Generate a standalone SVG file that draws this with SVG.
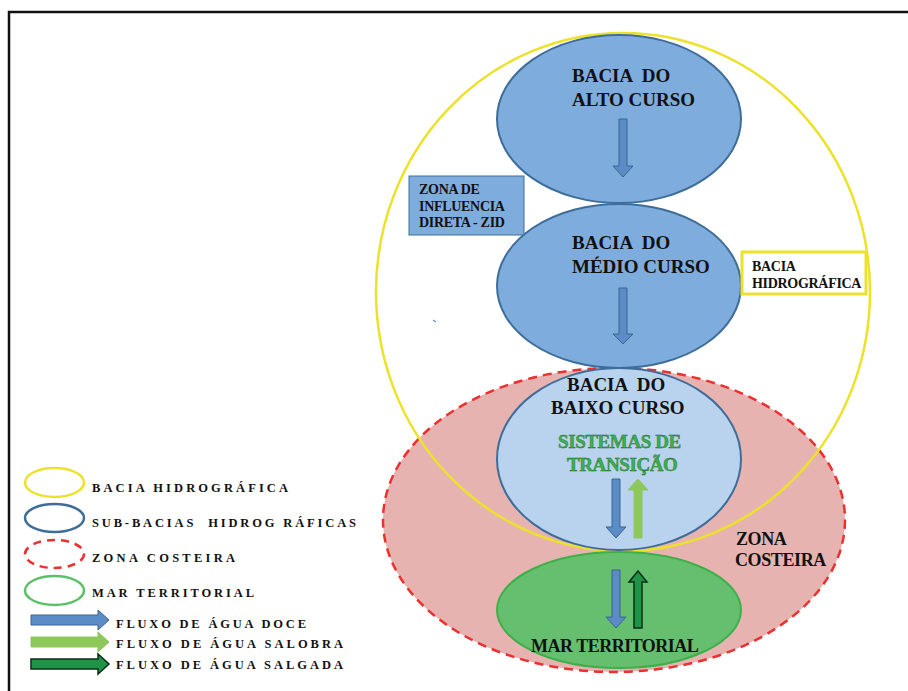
<svg xmlns="http://www.w3.org/2000/svg" width="908" height="691" viewBox="0 0 908 691">
<style>
.t{font-family:"Liberation Serif","Times New Roman",serif;font-weight:bold;fill:#111;white-space:pre}
.big{font-size:19px;letter-spacing:0px}
.sm{font-size:14px;letter-spacing:-0.3px}
.lg{font-size:12.5px}
.grn{fill:#3fae4f;stroke:#1d6b2a;stroke-width:0.4}
.sub{fill:#7eacdc;stroke:#3e6d9a;stroke-width:2}
.blueA{fill:#5b8cc5;stroke:#3b6491;stroke-width:1}
.greenA{fill:#8cc85a;stroke:#8cc85a;stroke-width:1}
.saltA{fill:#1f9446;stroke:#0a2e14;stroke-width:1.5}
</style>
<rect x="0" y="0" width="908" height="691" fill="#fff"/>
<path d="M9,691 V12 H908" fill="none" stroke="#111" stroke-width="2.5"/>

<g id="zona-costeira">
<ellipse cx="614" cy="520" rx="231" ry="152" fill="#e6b3b0" stroke="#ee2f2f" stroke-width="2.5" stroke-dasharray="9,6"/>
<text class="t" font-size="18" letter-spacing="-0.4" x="736" y="545">ZONA</text>
<text class="t" font-size="18" letter-spacing="-0.4" x="735" y="566">COSTEIRA</text>
</g>

<g id="bacia-hidrografica">
<ellipse cx="623" cy="292" rx="247" ry="259" fill="none" stroke="#ece22a" stroke-width="2.5"/>
</g>

<g id="bacia-alto-curso">
<ellipse class="sub" cx="619" cy="119" rx="122" ry="84"/>
<text class="t big" x="572" y="82" xml:space="preserve">BACIA  DO</text>
<text class="t big" x="572" y="106">ALTO CURSO</text>
</g>

<g id="bacia-medio-curso">
<ellipse class="sub" cx="619" cy="286" rx="122" ry="82"/>
<text class="t big" x="572" y="249" xml:space="preserve">BACIA  DO</text>
<text class="t big" x="572" y="273">MÉDIO CURSO</text>
</g>

<g id="mar-territorial">
<ellipse cx="619" cy="610" rx="122" ry="58" fill="#66bf6f" stroke="#3db04a" stroke-width="2"/>
<text class="t" font-size="18" letter-spacing="-0.5" x="531" y="652">MAR TERRITORIAL</text>
</g>

<g id="bacia-baixo-curso">
<ellipse cx="619" cy="459" rx="122" ry="91" fill="#b9d3ee" stroke="#3e6d9a" stroke-width="2"/>
<text class="t big" x="567" y="391" xml:space="preserve">BACIA  DO</text>
<text class="t big" x="551" y="414">BAIXO CURSO</text>
<text class="t grn" font-size="19" letter-spacing="-0.4" x="558" y="448">SISTEMAS DE</text>
<text class="t grn" font-size="19" letter-spacing="-0.4" x="567" y="471">TRANSIÇÃO</text>
</g>

<g id="zid">
<rect x="409" y="176" width="115" height="59" fill="#7eacdc" stroke="#3e6d9a" stroke-width="1"/>
<text class="t sm" x="419" y="194">ZONA DE</text>
<text class="t sm" x="419" y="211">INFLUENCIA</text>
<text class="t sm" x="419" y="227">DIRETA - ZID</text>
</g>

<g id="label-bacia-hidrografica">
<rect x="742" y="252" width="124" height="42" fill="#fff" stroke="#ece22a" stroke-width="3"/>
<text class="t sm" x="752" y="271">BACIA</text>
<text class="t sm" x="752" y="288">HIDROGRÁFICA</text>
</g>

<line x1="433" y1="320" x2="436" y2="322" stroke="#5b8cc5" stroke-width="1.2"/>

<g id="connectors">
<path class="blueA" d="M619,119 h8 v47 h6 l-10,11 l-10,-11 h6 z"/>
<path class="blueA" d="M619,288 h8 v46 h6 l-10,10 l-10,-10 h6 z"/>
<path class="blueA" d="M612,479 h8 v48 h6 l-10,11 l-10,-11 h6 z"/>
<path class="greenA" d="M634,538 h8 v-48 h6 l-10,-11 l-10,11 h6 z"/>
<path class="blueA" d="M612,570 h8 v47 h6 l-10,11 l-10,-11 h6 z"/>
<path class="saltA" d="M634,628 h8 v-46 h5 l-9,-11 l-9,11 h5 z"/>
</g>

<g id="legend">
<ellipse cx="54.5" cy="482.5" rx="29.5" ry="14.5" fill="none" stroke="#ece22a" stroke-width="2.5"/>
<text class="t lg" x="92" y="492" textLength="196" lengthAdjust="spacing">BACIA HIDROGRÁFICA</text>
<ellipse cx="54.5" cy="518" rx="29.5" ry="14" fill="none" stroke="#3e6d9a" stroke-width="2.5"/>
<text class="t lg" x="92" y="527" textLength="264" lengthAdjust="spacing" xml:space="preserve">SUB-BACIAS  HIDROG RÁFICAS</text>
<ellipse cx="54.5" cy="554" rx="29.5" ry="14" fill="none" stroke="#ee2f2f" stroke-width="2.5" stroke-dasharray="8,6"/>
<text class="t lg" x="92" y="562" textLength="143" lengthAdjust="spacing">ZONA COSTEIRA</text>
<ellipse cx="54.5" cy="590.5" rx="29.5" ry="14.5" fill="none" stroke="#5cc068" stroke-width="2.5"/>
<text class="t lg" x="92" y="597" textLength="162" lengthAdjust="spacing">MAR TERRITORIAL</text>
<path class="blueA" d="M31,615 h67 v-5 l11,10 l-11,10 v-5 h-67 z"/>
<text class="t lg" x="116" y="628" textLength="190" lengthAdjust="spacing">FLUXO DE ÁGUA DOCE</text>
<path class="greenA" d="M31,637 h67 v-5 l11,10 l-11,10 v-5 h-67 z"/>
<text class="t lg" x="116" y="648" textLength="227" lengthAdjust="spacing">FLUXO DE ÁGUA SALOBRA</text>
<path class="saltA" d="M31,659 h67 v-5 l11,10 l-11,10 v-5 h-67 z"/>
<text class="t lg" x="116" y="669" textLength="227" lengthAdjust="spacing">FLUXO DE ÁGUA SALGADA</text>
</g>
</svg>
